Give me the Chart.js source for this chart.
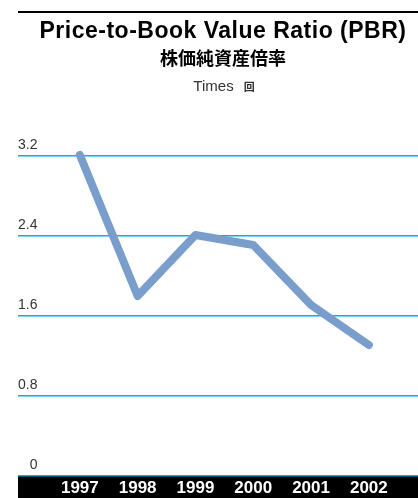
<!DOCTYPE html>
<html>
<head>
<meta charset="utf-8">
<script src="https://cdn.jsdelivr.net/npm/chart.js@4"></script>
<style>
  body { margin: 0; background: #fff; }
  #wrap { position: relative; width: 418px; height: 498px; overflow: hidden; }
  #rule { position: absolute; left: 18px; top: 11px; width: 400px; height: 2px; background: #000; }
  .t { position: absolute; left: 18px; width: 410px; text-align: center; white-space: nowrap; }
  #title { top: 19px; font: bold 23px/23px "Liberation Sans", Arial, sans-serif; letter-spacing: 0.5px; color: #000; }
  #sub { top: 48px; font: bold 18px/18px "Noto Sans CJK JP", sans-serif; color: #000; }
  #unit { top: 78px; left: 19px; font: 15px/15px "Liberation Sans", Arial, sans-serif; color: #333; }
  #unit span { font: bold 11px "Noto Sans CJK JP", sans-serif; margin-left: 10px; }
  canvas { position: absolute; left: 0; top: 0; }
</style>
</head>
<body>
<div id="wrap">
  <canvas id="myChart" width="418" height="498"></canvas>
  <div id="rule"></div>
  <div class="t" id="title">Price-to-Book Value Ratio (PBR)</div>
  <div class="t" id="sub">株価純資産倍率</div>
  <div class="t" id="unit">Times<span>回</span></div>
</div>
<script>
const years = [1997, 1998, 1999, 2000, 2001, 2002];
const pbr = [3.21, 1.80, 2.41, 2.31, 1.71, 1.31];
const yTicks = [0, 0.8, 1.6, 2.4, 3.2];
const yTickLabels = ["0", "0.8", "1.6", "2.4", "3.2"];

const chartContext = document.getElementById("myChart").getContext("2d");

var myChart = new Chart(chartContext, {
  type: "line",
  data: {
    datasets: [
      {
        label: "PBR",
        data: years.map((y, i) => ({ x: y, y: pbr[i] })),
        borderColor: "rgb(122, 158, 203)",
        borderWidth: 8,
        borderCapStyle: "round",
        borderJoinStyle: "round",
        pointRadius: 0,
        tension: 0,
        fill: false,
        clip: false,
      },
    ],
  },
  options: {
    responsive: false,
    animation: false,
    layout: { padding: { top: 156, left: 18, right: 0, bottom: 0 } },
    plugins: {
      legend: { display: false },
      tooltip: { enabled: false },
    },
    scales: {
      x: {
        type: "linear",
        min: 1995.93,
        max: 2002.85,
        backgroundColor: "#000",
        border: { display: false },
        grid: { display: false, drawTicks: false },
        afterBuildTicks: (scale) => {
          scale.ticks = years.map((v) => ({ value: v }));
        },
        afterFit: (scale) => {
          scale.height = 22;
        },
        ticks: {
          color: "#fff",
          padding: 2,
          maxRotation: 0,
          autoSkip: false,
          font: { family: "'Liberation Sans', Arial, sans-serif", size: 17, weight: "bold" },
          callback: (value) => String(value),
        },
      },
      y: {
        min: 0,
        max: 3.2,
        border: { display: false },
        grid: { color: "#00aeef", lineWidth: 1.5, drawTicks: false },
        afterBuildTicks: (scale) => {
          scale.ticks = yTicks.map((v) => ({ value: v }));
        },
        afterFit: (scale) => {
          scale.width = 0;
        },
        ticks: {
          mirror: true,
          crossAlign: "far",
          padding: 0,
          labelOffset: -11,
          color: "#333",
          font: { family: "'Liberation Sans', Arial, sans-serif", size: 14 },
          callback: (value, index) => yTickLabels[index],
        },
      },
    },
  },
});
</script>
</body>
</html>
